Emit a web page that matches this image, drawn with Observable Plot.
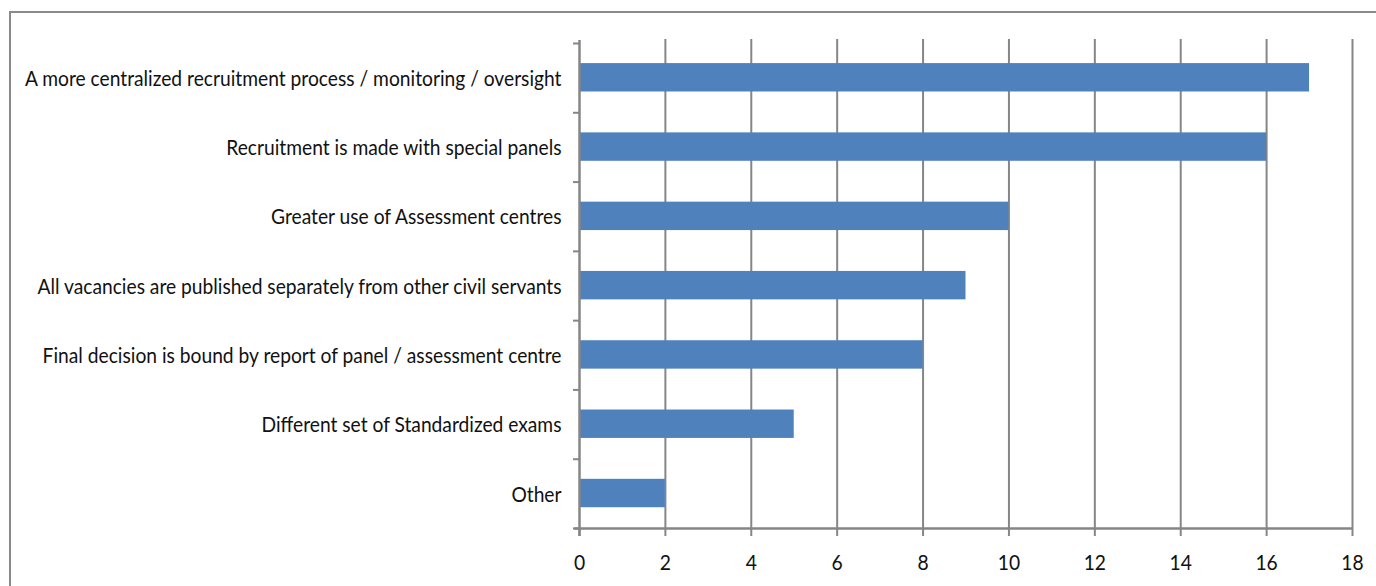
<!DOCTYPE html>
<html>
<head>
<meta charset="utf-8">
<script src="https://cdn.jsdelivr.net/npm/d3@7"></script>
<script src="https://cdn.jsdelivr.net/npm/@observablehq/plot@0.6"></script>
<style>
  html, body { margin: 0; padding: 0; background: #fff; overflow: hidden; }
  #wrap { position: relative; width: 1376px; height: 586px; }
  #frame { position: absolute; left: 9px; top: 11px; width: 1400px; height: 600px; border: 2px solid #8a8a8a; box-sizing: border-box; }
  #chart { position: absolute; left: 0; top: 0; }
</style>
</head>
<body>
<div id="wrap"><div id="frame"></div><div id="chart"></div></div>
<script>
const categories = [
  "A more centralized recruitment process / monitoring / oversight",
  "Recruitment is made with special panels",
  "Greater use of Assessment centres",
  "All vacancies are published separately from other civil servants",
  "Final decision is bound by report of panel / assessment centre",
  "Different set of Standardized exams",
  "Other"
];
const values = [17, 16, 10, 9, 8, 5, 2];
const xTicks = [0, 2, 4, 6, 8, 10, 12, 14, 16, 18];

const data = categories.map((c, i) => ({category: c, value: values[i], i}));
const centers = data.map(d => d.i + 0.5);
const bounds = d3.range(categories.length + 1);

const font = "Lato, 'Open Sans', sans-serif";

const chart = Plot.plot({
  width: 1376,
  height: 586,
  marginLeft: 579,
  marginRight: 24,
  marginTop: 43,
  marginBottom: 58,
  style: {fontFamily: font, fontSize: "21px", color: "#000", background: "transparent"},
  x: {domain: [0, 18], ticks: xTicks},
  y: {domain: [0, categories.length], reverse: true},
  marks: [
    Plot.gridX(xTicks.slice(1), {stroke: "#868686", strokeOpacity: 1, strokeWidth: 2, insetTop: -4}),
    Plot.rectX(data, {x1: 0, x2: "value", y1: d => d.i + 0.29, y2: d => d.i + 0.70, fill: "#4F81BD"}),
    Plot.ruleY([categories.length], {stroke: "#868686", strokeWidth: 2.5, insetLeft: -5}),
    Plot.ruleX([0], {stroke: "#868686", strokeWidth: 2.5, insetBottom: -8, insetTop: -3}),
    Plot.axisX(xTicks, {tickSize: 8, stroke: "#868686", strokeWidth: 2, tickPadding: 19, fontSize: 21, fill: "#111", label: null}),
    Plot.axisY(bounds, {tickSize: 6, stroke: "#868686", strokeWidth: 2, tickFormat: () => "", label: null}),
    Plot.axisY(centers, {tickSize: 0, tickPadding: 18, tickFormat: v => categories[Math.floor(v)], fontSize: 21, fill: "#111", label: null, dy: 1})
  ]
});
document.getElementById("chart").append(chart);

// Condense text horizontally to mimic the narrow font of the original
const squeeze = 0.915;
d3.select(chart).selectAll("text").each(function() {
  const len = this.getComputedTextLength();
  if (len > 0) {
    this.setAttribute("textLength", (len * squeeze).toFixed(1));
    this.setAttribute("lengthAdjust", "spacingAndGlyphs");
  }
});
</script>
</body>
</html>
